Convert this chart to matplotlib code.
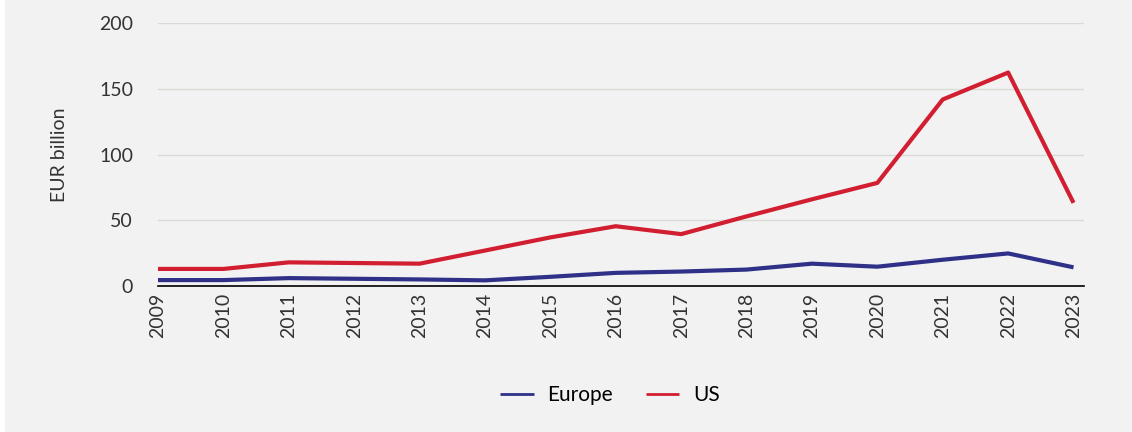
import matplotlib.pyplot as plt
from matplotlib.patches import Rectangle

years = list(range(2009, 2024))
europe = [4.5, 4.5, 6, 5.5, 5, 4.3, 7, 10, 11, 12.5, 17, 14.7, 20, 24.8, 14.2]
us = [13, 13, 18, 17.5, 17, 27, 37, 45.5, 39.5, 53, 66, 78.5, 142, 162.5, 63.3]

plt.rcParams['font.family'] = ['Lato', 'DejaVu Sans']

bg = '#f2f2f2'
fig = plt.figure(figsize=(11.32, 4.32), dpi=100, facecolor=bg)
# thin white margin on the left edge
fig.patches.append(Rectangle((0, 0), 5 / 1132, 1, transform=fig.transFigure,
                             facecolor='white', edgecolor='none', zorder=0))

ax = fig.add_axes([158 / 1132, 1 - 286 / 432, (1084 - 158) / 1132, (286 - 23.3) / 432])
ax.set_facecolor(bg)

ax.plot(years, europe, color='#2e3187', linewidth=3, label='Europe', solid_capstyle='butt')
ax.plot(years, us, color='#d11f31', linewidth=3, label='US', solid_capstyle='butt')

ax.set_xlim(2009, 2023.16)
ax.set_ylim(0, 200)
ax.set_yticks([0, 50, 100, 150, 200])
ax.set_xticks(years)
ax.set_xticklabels([str(y) for y in years], rotation=90)

ax.grid(axis='y', color='#d9d9d6', linewidth=1)
ax.set_axisbelow(True)
for side in ['top', 'right', 'left']:
    ax.spines[side].set_visible(False)
ax.spines['bottom'].set_color('black')
ax.spines['bottom'].set_linewidth(1.2)
ax.tick_params(axis='both', length=0, labelsize=14, colors='#333333')
ax.tick_params(axis='y', pad=18)
ax.tick_params(axis='x', pad=5)

ax.set_ylabel('EUR billion', fontsize=14, color='#333333', labelpad=22)

fig.legend(loc='center', bbox_to_anchor=(610 / 1132, 1 - 395 / 432), ncol=2,
           frameon=False, fontsize=15, handlelength=1.6, columnspacing=1.6,
           handletextpad=0.65)
for line in fig.legends[0].get_lines():
    line.set_linewidth(2)

fig.savefig('out.png', dpi=100, facecolor=bg)
